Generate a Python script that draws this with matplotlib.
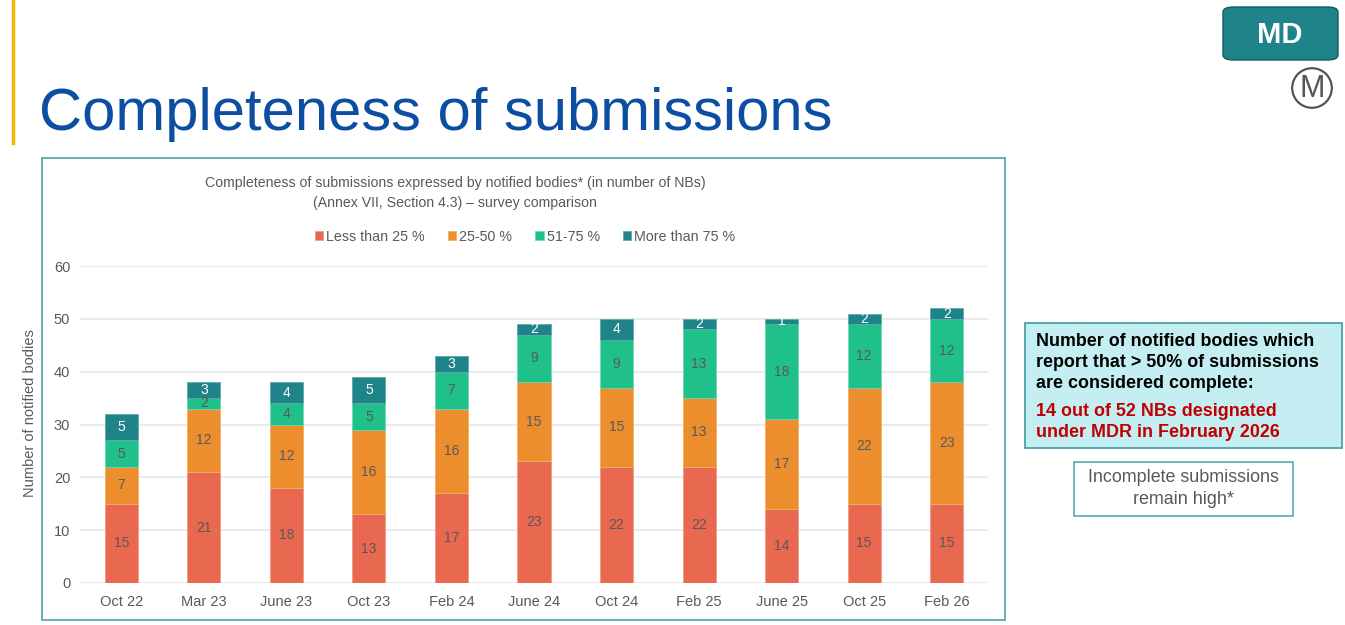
import numpy as np
import matplotlib
matplotlib.use('Agg')
import matplotlib.pyplot as plt
from matplotlib.patches import FancyBboxPatch, Rectangle, Circle

plt.rcParams['font.family'] = ['Liberation Sans', 'DejaVu Sans']

# survey data (number of NBs)
surveys = ['Oct 22', 'Mar 23', 'June 23', 'Oct 23', 'Feb 24', 'June 24',
           'Oct 24', 'Feb 25', 'June 25', 'Oct 25', 'Feb 26']
less_25 = [15, 21, 18, 13, 17, 23, 22, 22, 14, 15, 15]
p25_50 = [7, 12, 12, 16, 16, 15, 15, 13, 17, 22, 23]
p51_75 = [5, 2, 4, 5, 7, 9, 9, 13, 18, 12, 12]
more_75 = [5, 3, 4, 5, 3, 2, 4, 2, 1, 2, 2]
series_names = ['Less than 25 %', '25-50 %', '51-75 %', 'More than 75 %']
yticks = [0, 10, 20, 30, 40, 50, 60]

colors = ['#E8694F', '#EC8D2E', '#1FC08A', '#1E8489']
edge_cols = ['#F29A88', '#F3AE66', '#6FD8B2', '#5FAAAE']
label_cols = ['#595959', '#595959', '#595959', 'white']
grey = '#595959'

W, H = 1345, 625
fig = plt.figure(figsize=(W / 100, H / 100), dpi=100)


def fx(x):
    return x / W


def fy(y):
    return 1 - y / H


# yellow bar + page title
fig.add_artist(plt.Line2D([fx(13), fx(13)], [fy(0), fy(143)], color='#F5B800', lw=2.5))
fig.text(fx(39), fy(130), 'Completeness of submissions', fontsize=43, color='#0B4EA2',
         ha='left', va='baseline')

# MD badge and logo
fig.add_artist(FancyBboxPatch((fx(1223), fy(60)), fx(115), 53 / H,
                              boxstyle='round,pad=0,rounding_size=0.008',
                              transform=fig.transFigure, fc='#1E8489', ec='#145A5E', lw=1))
fig.text(fx(1280), fy(35), 'MD', fontsize=21, fontweight='bold', color='white',
         ha='center', va='center')
logo_ax = fig.add_axes([fx(1290), fy(110), fx(44), 44 / H])
logo_ax.set_xlim(-1, 1)
logo_ax.set_ylim(-1, 1)
logo_ax.set_aspect('equal')
logo_ax.axis('off')
logo_ax.add_patch(Circle((0, 0), 0.9, fill=False, ec='#555555', lw=1.6))
logo_ax.text(0, -0.03, 'M', fontsize=22, color='#555555', ha='center', va='center')

# chart frame
fig.add_artist(Rectangle((fx(42), fy(620)), fx(1005 - 42), (620 - 158) / H,
                         transform=fig.transFigure, fill=False, ec='#5BA8AC', lw=1.3))
fig.text(fx(455), fy(183), 'Completeness of submissions expressed by notified bodies* (in number of NBs)',
         fontsize=10.2, color=grey, ha='center', va='center')
fig.text(fx(455), fy(203), '(Annex VII, Section 4.3) \u2013 survey comparison',
         fontsize=10.2, color=grey, ha='center', va='center')

ax = fig.add_axes([fx(80), fy(583), fx(988 - 80), (583 - 266) / H])
x = np.arange(len(surveys))
bottom = np.zeros(len(surveys))
handles = []
for vals, name, c, ec, lc in zip([less_25, p25_50, p51_75, more_75], series_names,
                                 colors, edge_cols, label_cols):
    vals = np.array(vals)
    b = ax.bar(x, vals, width=0.4, bottom=bottom, color=c, edgecolor=ec, linewidth=0.6,
               label=name, zorder=3)
    handles.append(b)
    for xi, v, b0 in zip(x, vals, bottom):
        ax.text(xi, b0 + v / 2, str(v), ha='center', va='center', fontsize=10,
                color=lc, zorder=4)
    bottom = bottom + vals

ax.set_xlim(-0.5, 10.5)
ax.set_ylim(0, 60)
ax.set_yticks(yticks)
ax.set_xticks(x)
ax.set_xticklabels(surveys)
ax.tick_params(axis='both', length=0, labelsize=10.5, labelcolor=grey)
ax.tick_params(axis='x', pad=9)
ax.tick_params(axis='y', pad=7)
ax.grid(axis='y', color='#EBEBEB', lw=1.5, zorder=0)
for s in ax.spines.values():
    s.set_visible(False)
fig.text(fx(30), fy(413), 'Number of notified bodies', fontsize=10.5, color=grey,
         rotation=90, ha='center', va='center')

fig.legend(handles=handles, loc='center', bbox_to_anchor=(fx(525), fy(237)), ncol=4,
           frameon=False, fontsize=10.3, handlelength=0.6, handleheight=0.6,
           handletextpad=0.2, columnspacing=1.6, labelcolor=grey)

# right side callouts
fig.add_artist(Rectangle((fx(1025), fy(448)), fx(1342 - 1025), (448 - 323) / H,
                         transform=fig.transFigure, fc='#C5EEF2', ec='#4BA3A8', lw=1.3))
for i, line in enumerate(['Number of notified bodies which',
                          'report that > 50% of submissions',
                          'are considered complete:']):
    fig.text(fx(1036), fy(341 + 21.5 * i), line, fontsize=12.9, fontweight='bold',
             color='black', ha='left', va='center')
for i, line in enumerate(['14 out of 52 NBs designated', 'under MDR in February 2026']):
    fig.text(fx(1036), fy(411 + 21.5 * i), line, fontsize=12.9, fontweight='bold',
             color='#C00000', ha='left', va='center')

fig.add_artist(Rectangle((fx(1074), fy(516)), fx(1293 - 1074), (516 - 462) / H,
                         transform=fig.transFigure, fc='white', ec='#4BA3A8', lw=1.1))
fig.text(fx(1183), fy(478), 'Incomplete submissions', fontsize=12.9, color=grey,
         ha='center', va='center')
fig.text(fx(1183), fy(499), 'remain high*', fontsize=12.9, color=grey,
         ha='center', va='center')

fig.savefig('out.png', dpi=100)
